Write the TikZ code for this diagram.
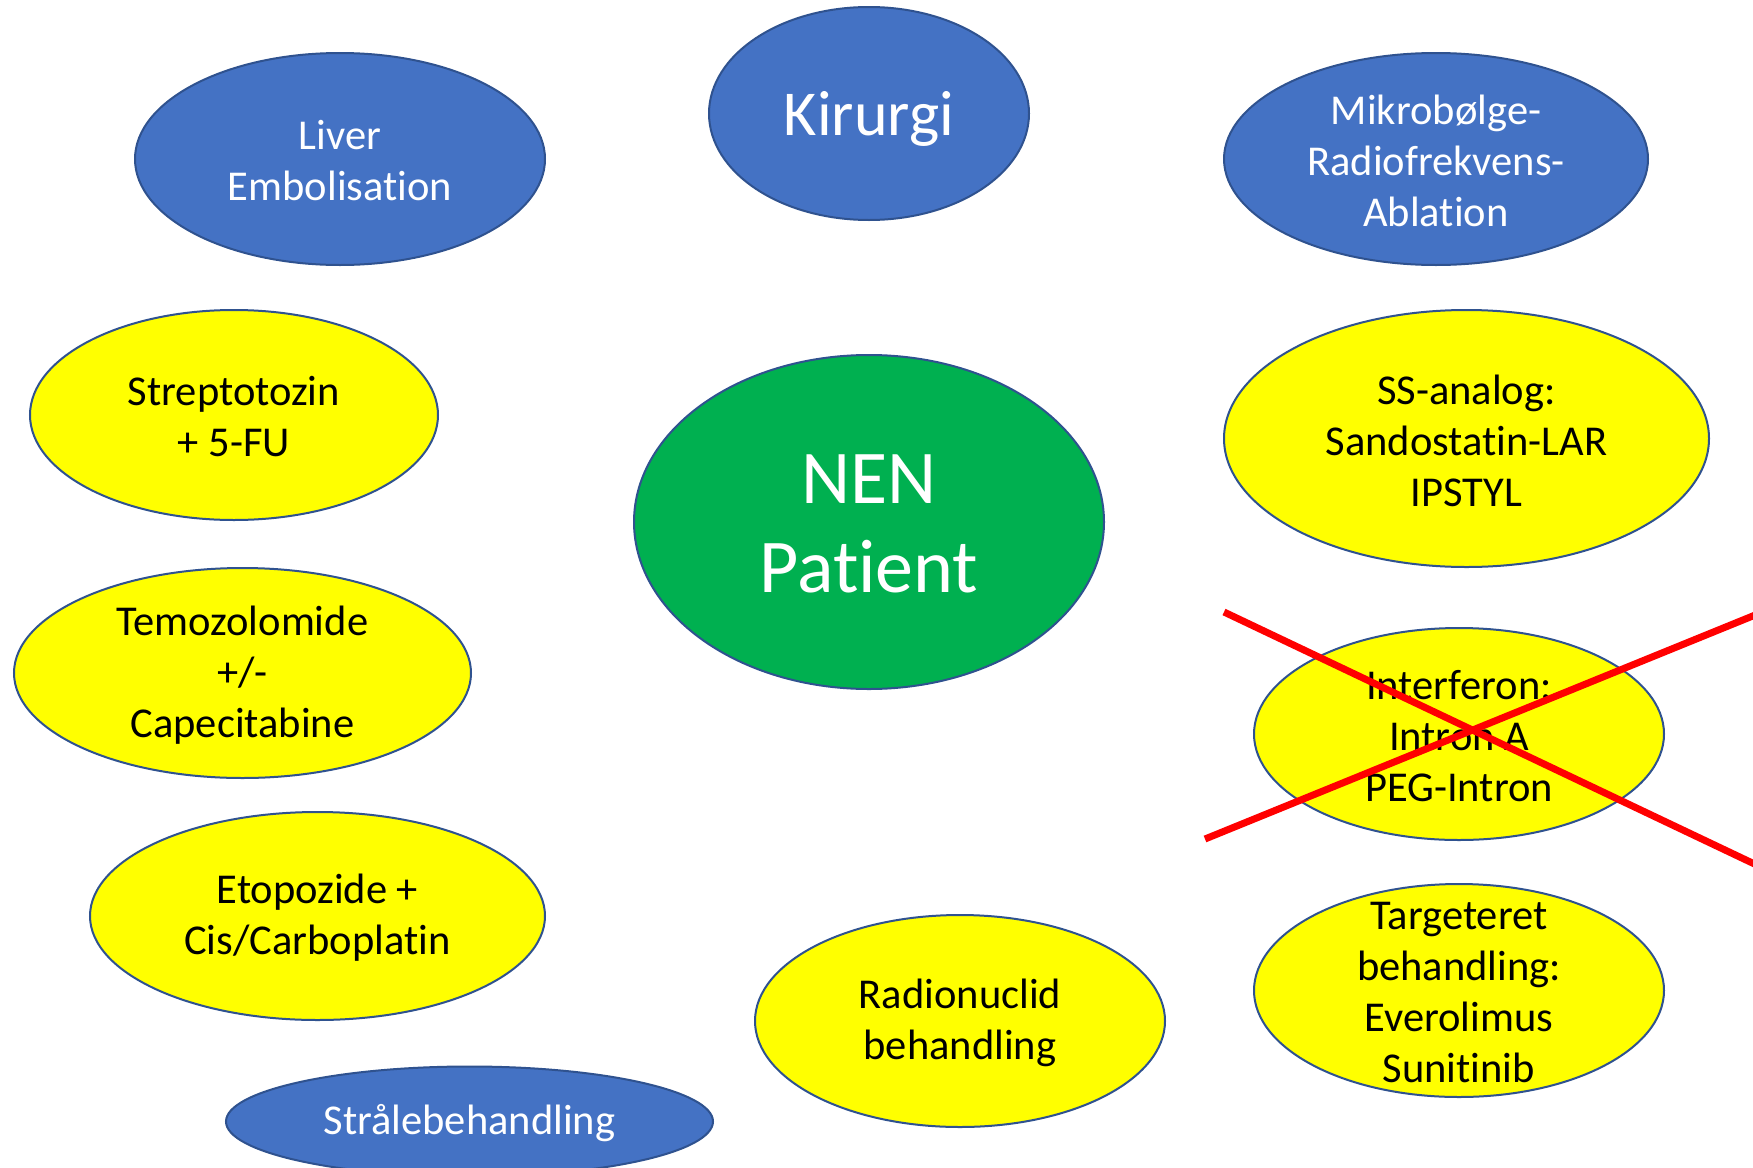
\documentclass[tikz,border=0pt]{standalone}
\usepackage{fontspec}
\setmainfont{Carlito}[Ligatures={NoCommon,NoRequired,NoContextual,NoRare},Contextuals=NoAlternate]
\usetikzlibrary{shapes.geometric}
\definecolor{offblue}{HTML}{4472C4}
\definecolor{edgeblue}{HTML}{2F528F}
\definecolor{offyellow}{HTML}{FFFF00}
\definecolor{offgreen}{HTML}{00B050}
\definecolor{crossred}{HTML}{FF0000}
\newcommand{\nolig}{\kern0pt{}}
\tikzset{
  ellbase/.style={ellipse, draw=edgeblue, line width=2pt, inner sep=0pt, outer sep=0pt},
  blueell/.style={ellbase, fill=offblue},
  yellell/.style={ellbase, fill=offyellow},
  greenell/.style={ellbase, fill=offgreen},
  txtbase/.style={align=center, inner sep=0pt, yshift=-2pt, font=\fontsize{42.5}{51}\selectfont},
  wtxt/.style={txtbase, text=white},
  btxt/.style={txtbase, text=black},
  crossline/.style={draw=crossred, line width=7pt}
}
\begin{document}
\begin{tikzpicture}[x=1pt, y=-1pt]
\useasboundingbox (0,0) rectangle (1753,1167);
\fill[white] (0,0) rectangle (1753,1167);

% blue ellipses
\node[blueell, minimum width=320, minimum height=213] (kir) at (869,113.5) {};
\node[wtxt, yshift=-3pt, font=\fontsize{64}{75}\selectfont] (kirT) at (kir) {Kirurgi};

\node[blueell, minimum width=410, minimum height=212] (liv) at (340,159) {};
\node[wtxt] (livT) at (liv) {Liver\\Embolisat\nolig ion};

\node[blueell, minimum width=424, minimum height=212] (mik) at (1436,159) {};
\node[wtxt] (mikT) at (mik) {Mikrobølge-\\Radiofrekvens-\\Ablat\nolig ion};

\node[blueell, minimum width=487, minimum height=110] (str) at (469.5,1121.5) {};
\node[wtxt] (strT) at (str) {Strålebehandling};

% centre
\node[greenell, minimum width=470, minimum height=334] (nen) at (869,522) {};
\node[wtxt, font=\fontsize{76}{89}\selectfont] (nenT) at (nen) {NEN\\Pat\nolig ient};

% yellow ellipses
\node[yellell, minimum width=408, minimum height=210] (stp) at (234,415) {};
\node[btxt] (stpT) at (stp) {Streptotozin\\+ 5-FU};

\node[yellell, minimum width=485, minimum height=257] (ssa) at (1466.5,438.5) {};
\node[btxt] (ssaT) at (ssa) {SS-analog:\\Sandostatin-LAR\\IPSTYL};

\node[yellell, minimum width=457, minimum height=210] (tem) at (242.5,673) {};
\node[btxt] (temT) at (tem) {Temozolomide\\+/-\\Capecitabine};

\node[yellell, minimum width=410, minimum height=212] (itf) at (1459,734) {};
\node[btxt] (itfT) at (itf) {Interferon:\\Intron A\\PEG-Intron};

\node[yellell, minimum width=455, minimum height=208] (eto) at (317.5,916) {};
\node[btxt] (etoT) at (eto) {Etopozide +\\Cis/Carboplatin};

\node[yellell, minimum width=410, minimum height=212] (rad) at (960,1021) {};
\node[btxt] (radT) at (rad) {Radionuclid\\behandling};

\node[yellell, minimum width=410, minimum height=213] (tgt) at (1459,990.5) {};
\node[btxt] (tgtT) at (tgt) {Targeteret\\behandling:\\Everolimus\\Sunitinib};

% red cross over Interferon
\coordinate (xa1) at (1224,612);
\coordinate (xa2) at (1765,869);
\coordinate (xb1) at (1205,839);
\coordinate (xb2) at (1765,611);
\draw[crossline] (xa1) -- (xa2);
\draw[crossline] (xb1) -- (xb2);
\end{tikzpicture}
\end{document}
